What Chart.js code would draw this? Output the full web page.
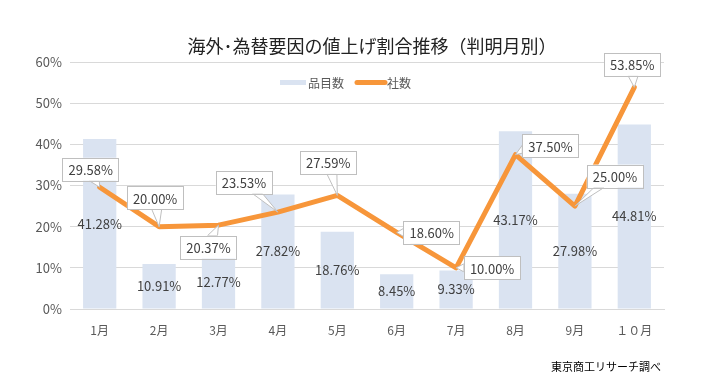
<!DOCTYPE html>
<html>
<head>
<meta charset="utf-8">
<script src="https://cdn.jsdelivr.net/npm/chart.js@4"></script>
<style>
    html, body { margin: 0; padding: 0; background: #fff; }
    .wrap { width: 701px; height: 390px; }
</style>
</head>
<body>
<div class="wrap"><canvas id="myChart"></canvas></div>
<script>
// data
const months = ['1月', '2月', '3月', '4月', '5月', '6月', '7月', '8月', '9月', '１０月']
const itemShare = [41.28, 10.91, 12.77, 27.82, 18.76, 8.45, 9.33, 43.17, 27.98, 44.81]
const companyShare = [29.58, 20.00, 20.37, 23.53, 27.59, 18.60, 10.00, 37.50, 25.00, 53.85]
const yMin = 0
const yMax = 60
const yStep = 10

// where each callout box sits relative to its point (dx, dy)
const calloutOffset = [[-9, -18], [-4, -29], [-10, 22], [-34, -30], [-9, -33], [35, 0], [36, 0], [35, -9], [40, -30], [-2, -23]]

const FONT = '"Noto Sans CJK JP", "Noto Sans", sans-serif'
const barColor = '#DAE3F1'
const lineColor = '#F7963A'

const labelsPlugin = {
    id: 'labels',
    afterDatasetsDraw(chart) {
        const c = chart.ctx
        c.save()
        c.font = '13px ' + FONT
        c.textAlign = 'center'
        c.textBaseline = 'middle'

        // bar labels, centred in the bar
        const barMeta = chart.getDatasetMeta(1)
        barMeta.data.forEach((bar, i) => {
            const y = (bar.y + bar.base) / 2
            c.fillStyle = '#404040'
            c.fillText(itemShare[i].toFixed(2) + '%', bar.x, y)
        })

        // line callouts
        const lineMeta = chart.getDatasetMeta(0)
        lineMeta.data.forEach((pt, i) => {
            const text = companyShare[i].toFixed(2) + '%'
            const w = c.measureText(text).width + 12
            const h = 23
            const cx = pt.x + calloutOffset[i][0]
            const cy = pt.y + calloutOffset[i][1]
            const x0 = cx - w / 2, y0 = cy - h / 2

            // wedge pointing to the point
            const dx = pt.x - cx, dy = pt.y - cy
            let bx, by, ax, ay, ex, ey
            if (Math.abs(dy) * w > Math.abs(dx) * h) {
                by = dy > 0 ? y0 + h : y0
                bx = Math.max(x0 + 6, Math.min(x0 + w - 6, cx + dx * 0.4))
                ax = bx - 5; ay = by; ex = bx + 5; ey = by
            } else {
                bx = dx > 0 ? x0 + w : x0
                by = Math.max(y0 + 5, Math.min(y0 + h - 5, cy + dy * 0.4))
                ax = bx; ay = by - 4; ex = bx; ey = by + 4
            }
            c.beginPath()
            c.moveTo(ax, ay)
            c.lineTo(pt.x, pt.y)
            c.lineTo(ex, ey)
            c.closePath()
            c.fillStyle = '#fff'
            c.fill()
            c.strokeStyle = '#BFBFBF'
            c.lineWidth = 1
            c.stroke()

            c.fillStyle = '#fff'
            c.fillRect(x0, y0, w, h)
            c.strokeStyle = '#BFBFBF'
            c.strokeRect(Math.round(x0) + 0.5, Math.round(y0) + 0.5, Math.round(w), h)
            c.fillStyle = '#404040'
            c.fillText(text, cx, cy + 1)
        })
        c.restore()
    },
    afterDraw(chart) {
        const c = chart.ctx
        c.save()
        // title
        c.font = '18px ' + FONT
        c.fillStyle = '#222'
        c.textAlign = 'center'
        c.textBaseline = 'middle'
        c.fillText('海外･為替要因の値上げ割合推移（判明月別）', 372, 46)

        // legend
        c.textAlign = 'left'
        c.font = '12px ' + FONT
        c.fillStyle = barColor
        c.fillRect(280, 80, 26, 5)
        c.fillStyle = '#595959'
        c.fillText('品目数', 308, 83)
        c.strokeStyle = lineColor
        c.lineWidth = 5
        c.lineCap = 'round'
        c.beginPath()
        c.moveTo(357, 82.5)
        c.lineTo(385, 82.5)
        c.stroke()
        c.fillText('社数', 387, 83)

        // source note
        c.font = '11px ' + FONT
        c.fillStyle = '#000'
        c.fillText('東京商工リサーチ調べ', 551, 367)
        c.restore()
    }
}

const ctx = document.getElementById('myChart')

new Chart(ctx, {
    type: 'bar',
    data: {
        labels: months,
        datasets: [{
            type: 'line',
            label: '社数',
            data: companyShare,
            borderColor: lineColor,
            backgroundColor: lineColor,
            borderWidth: 5,
            pointRadius: 0,
            tension: 0,
            borderJoinStyle: 'round',
            borderCapStyle: 'round',
            order: 0,
        },
        {
            label: '品目数',
            data: itemShare,
            backgroundColor: barColor,
            barPercentage: 0.56,
            categoryPercentage: 1,
            order: 1,
        }],
    },
    options: {
        responsive: true,
        maintainAspectRatio: false,
        animation: false,
        layout: {
            padding: { top: 62, left: 30, right: 37, bottom: 51 }
        },
        scales: {
            x: {
                grid: {
                    display: false
                },
                border: {
                    display: true,
                    color: '#D9D9D9'
                },
                ticks: {
                    color: '#595959',
                    font: { size: 12, family: FONT },
                    padding: 6
                },
                afterFit(scale) {
                    scale.height = 30
                }
            },
            y: {
                min: yMin,
                max: yMax,
                grid: {
                    color: '#D9D9D9',
                    drawTicks: false
                },
                border: {
                    display: false
                },
                ticks: {
                    stepSize: yStep,
                    color: '#595959',
                    font: { size: 13, family: FONT },
                    padding: 8,
                    callback: (v) => v + '%'
                },
                afterFit(scale) {
                    scale.width = 40
                }
            }
        },
        plugins: {
            legend: { display: false },
            title: { display: false },
            tooltip: { enabled: false }
        }
    },
    plugins: [labelsPlugin]
});
</script>
</body>
</html>
